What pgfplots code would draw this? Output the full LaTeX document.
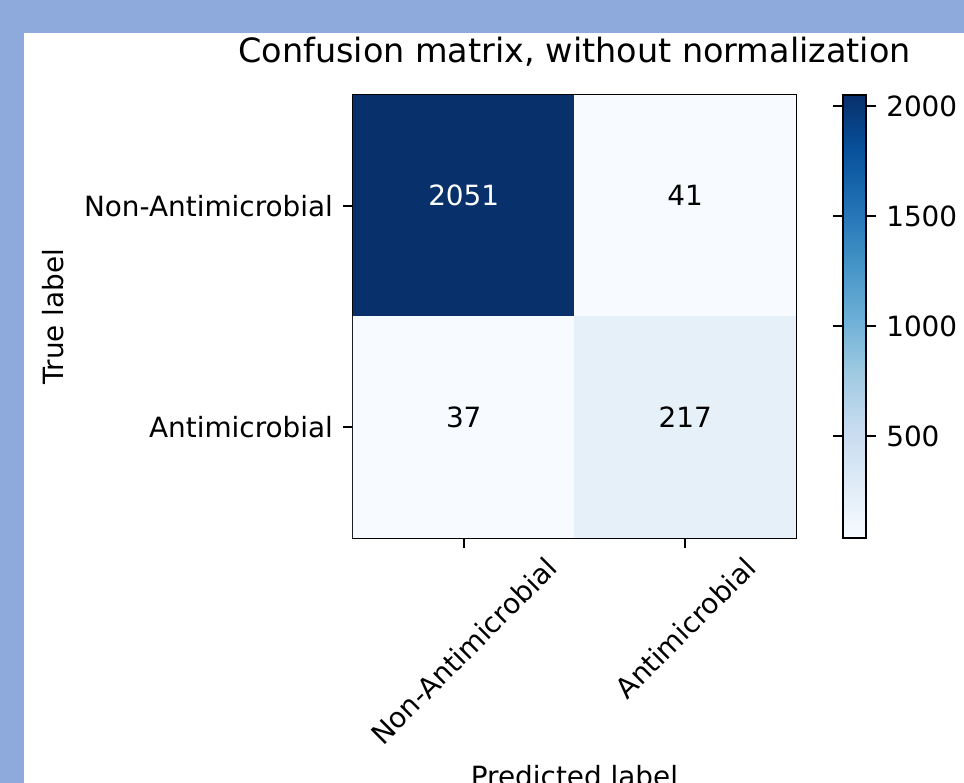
\documentclass[border=0pt]{standalone}
\usepackage{fontspec}
\setmainfont{DejaVu Sans}
\usepackage{graphicx}
\usepackage{pgfplots}
\pgfplotsset{compat=1.18}
\definecolor{bgblue}{RGB}{142,170,220}
\pgfplotsset{/pgf/number format/assume math mode=true, /pgf/number format/1000 sep={}}
\begin{document}
\begin{tikzpicture}
\path[use as bounding box] (0,0) rectangle (345.79pt,280.86pt);
\clip (0,0) rectangle (345.79pt,280.86pt);
\begin{scope}[x=0.3587pt,y=0.3587pt]
\fill[bgblue] (0,0) rectangle (964,783);
\fill[white] (24,0) rectangle (964,750);
\end{scope}
\begin{axis}[
  at={(126.62pt,87.88pt)}, anchor=south west,
  width=158.9pt, height=158.9pt, scale only axis,
  xmin=-0.5, xmax=1.5, ymin=-0.5, ymax=1.5,
  y dir=reverse, enlargelimits=false,
  axis line style={black, line width=0.8pt},
  xtick={0,1}, ytick={0,1},
  xticklabels={\rotatebox{45}{Non-Antimicrobial},\rotatebox{45}{Antimicrobial}},
  yticklabels={Non-Antimicrobial,Antimicrobial},
  xtick pos=bottom, ytick pos=left,
  tick align=outside, major tick length=3.5pt,
  tick style={black, line width=0.8pt},
  xticklabel style={anchor=north, inner sep=0pt, yshift=-2.5pt},
  yticklabel style={anchor=east, inner sep=0pt, xshift=-3.5pt},
  title={Confusion matrix, without normalization},
  title style={at={(axis description cs:0.5,1.0361)}, anchor=base, inner sep=0pt, font=\fontsize{12}{14}\selectfont},
  xlabel={Predicted label},
  xlabel style={at={(axis description cs:0.5,-0.5621)}, anchor=base, inner sep=0pt},
  ylabel={True label},
  ylabel style={at={(axis description cs:-0.6546,0.5)}, anchor=base, inner sep=0pt},
  colormap={mplblues}{rgb255=(247,251,255) rgb255=(222,235,247) rgb255=(198,219,239) rgb255=(158,202,225) rgb255=(107,174,214) rgb255=(66,146,198) rgb255=(33,113,181) rgb255=(8,81,156) rgb255=(8,48,107)},
  point meta min=37, point meta max=2051,
  colorbar,
  colorbar style={
    at={(parent axis.north east)}, anchor=north west, xshift=8.4pt,
    width=8.25pt,
    ytick={500,1000,1500,2000},
    tick align=outside, major tick length=3.5pt,
    tick style={black, line width=0.8pt},
    axis line style={black, line width=0.8pt},
    yticklabel style={anchor=west, inner sep=0pt, xshift=3.5pt, /pgf/number format/1000 sep={}},
  },
]
\addplot[matrix plot*, mesh/cols=2, point meta=explicit] table[meta=C] {
x y C
0 0 2051
1 0 41
0 1 37
1 1 217
};
\addplot[draw=none, mark=none, point meta=explicit symbolic, nodes near coords,
  nodes near coords align=center,
  every node near coord/.append style={anchor=base, inner sep=0pt, text=white}]
  coordinates {(0,0)[2051]};
\addplot[draw=none, mark=none, point meta=explicit symbolic, nodes near coords,
  nodes near coords align=center,
  every node near coord/.append style={anchor=base, inner sep=0pt, text=black}]
  coordinates {(1,0)[41] (0,1)[37] (1,1)[217]};
\end{axis}
\end{tikzpicture}
\end{document}
